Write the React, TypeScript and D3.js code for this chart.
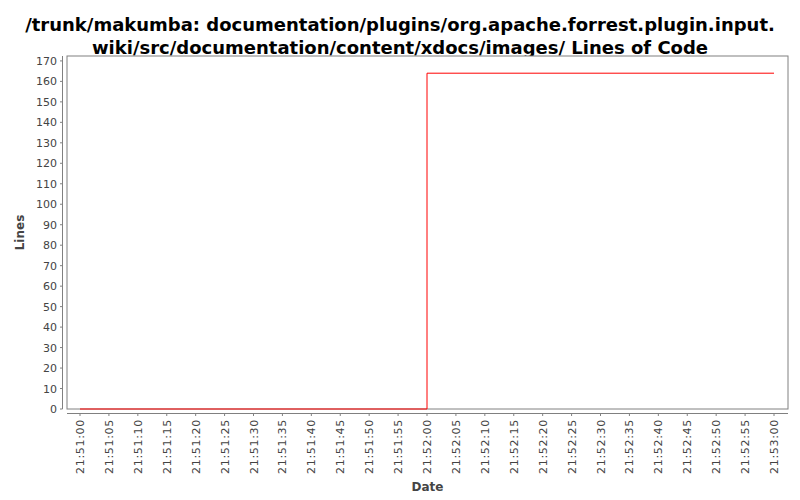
import React from 'react';
import * as d3 from 'd3';

const titleLines = [
  '/trunk/makumba: documentation/plugins/org.apache.forrest.plugin.input.',
  'wiki/src/documentation/content/xdocs/images/ Lines of Code',
];

// time points (hh, mm, ss) and line counts
const times: [number, number, number][] = [
  [21, 51, 0],
  [21, 52, 0],
  [21, 53, 0],
];
const lines = [0, 164, 164];

const yTicks = d3.range(0, 171, 10);

const toDate = (t: [number, number, number]) => new Date(2000, 0, 1, t[0], t[1], t[2]);

const App = () => {
  const width = 800;
  const height = 500;
  // plot box
  const p = { l: 67, r: 788, t: 56, b: 409 };

  const data = times.map((t, i) => ({ date: toDate(t), value: lines[i] }));

  const x = d3
    .scaleTime()
    .domain([toDate(times[0]), toDate(times[times.length - 1])])
    .range([p.l + 13, p.r - 14]);
  const y = d3.scaleLinear().domain([0, 172.4]).range([p.b, p.t]);

  const xTicks = x.ticks(d3.timeSecond.every(5) as any);
  const fmt = d3.timeFormat('%H:%M:%S');

  const path = d3
    .line<{ date: Date; value: number }>()
    .x(d => x(d.date))
    .y(d => y(d.value))
    .curve(d3.curveStepAfter)(data);

  const axisColor = '#808080';
  const labelColor = '#444444';

  return (
    <svg width={width} height={height} style={{ position: 'absolute', left: 0, top: 0 }} fontFamily="DejaVu Sans">
      <rect x={0} y={0} width={width} height={height} fill="#ffffff" />
      {titleLines.map((t, i) => (
        <text key={i} x={400} y={31 + i * 23} textAnchor="middle" fontSize={18} fontWeight="bold" fill="#000">
          {t}
        </text>
      ))}

      {/* plot box */}
      <rect x={p.l} y={p.t} width={p.r - p.l} height={p.b - p.t} fill="#fff" stroke={axisColor} strokeWidth={1} />

      {/* y axis */}
      <line x1={p.l - 4.5} x2={p.l - 4.5} y1={p.t} y2={p.b} stroke={axisColor} />
      {yTicks.map(v => (
        <g key={v}>
          <line x1={p.l - 7} x2={p.l - 4.5} y1={y(v)} y2={y(v)} stroke={axisColor} />
          <text x={p.l - 10} y={y(v) + 4} textAnchor="end" fontSize={11} fill={labelColor}>
            {v}
          </text>
        </g>
      ))}
      <text
        transform={`translate(24, ${(p.t + p.b) / 2}) rotate(-90)`}
        textAnchor="middle"
        fontSize={12}
        fontWeight="bold"
        fill={labelColor}
      >
        Lines
      </text>

      {/* x axis */}
      <line x1={p.l} x2={p.r} y1={p.b + 4.5} y2={p.b + 4.5} stroke={axisColor} />
      {xTicks.map((d, i) => (
        <g key={i}>
          <line x1={x(d)} x2={x(d)} y1={p.b + 4.5} y2={p.b + 7} stroke={axisColor} />
          <text
            transform={`translate(${x(d) + 4}, ${p.b + 10}) rotate(-90)`}
            textAnchor="end"
            fontSize={11}
            fill={labelColor}
            letterSpacing={0.7}
          >
            {fmt(d)}
          </text>
        </g>
      ))}
      <text x={(p.l + p.r) / 2} y={491} textAnchor="middle" fontSize={12} fontWeight="bold" fill={labelColor}>
        Date
      </text>

      <path d={path ?? ''} fill="none" stroke="#ff0000" strokeWidth={1} />
    </svg>
  );
};

export default App;
